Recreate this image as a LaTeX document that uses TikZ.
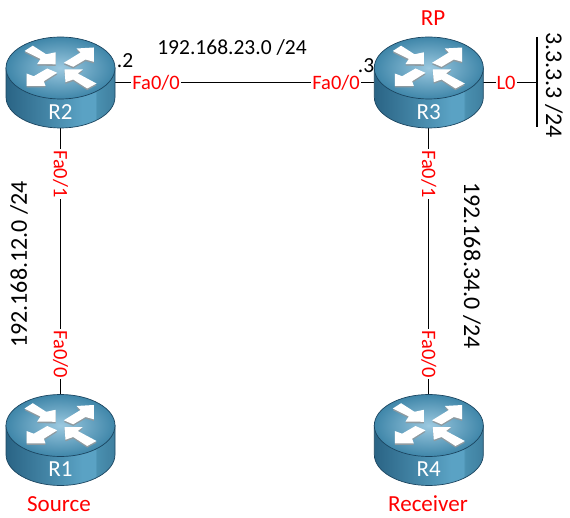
\documentclass[tikz,border=0pt]{standalone}
\usepackage{fontspec}
\setmainfont{Carlito}
\definecolor{red1}{HTML}{FF0000}
\definecolor{routeredge}{HTML}{1B4560}
\definecolor{routerlight}{HTML}{9CC9E0}
\definecolor{routertop}{HTML}{3F86A9}
\definecolor{arrowshade}{HTML}{8E9AA0}
\definecolor{routerS1}{HTML}{2A6485}
\definecolor{routerS2}{HTML}{4587A8}
\definecolor{routerS3}{HTML}{5AA2C4}
\definecolor{routerS4}{HTML}{4A90B0}
\definecolor{routerS5}{HTML}{3F7F9F}
\pgfdeclarehorizontalshading{routerside}{100bp}{
  color(0bp)=(routerS1);
  color(25bp)=(routerS1);
  color(45bp)=(routerS2);
  color(60bp)=(routerS3);
  color(66bp)=(routerS3);
  color(66.5bp)=(routerS4);
  color(75bp)=(routerS5);
  color(100bp)=(routerS5)}
\tikzset{
  routerbox/.style={minimum width=109pt,minimum height=91pt,inner sep=0pt,outer sep=0pt},
  portlabel/.style={fill=white,text=red1,font=\fontsize{20.5}{22}\selectfont,inner xsep=1pt,inner ysep=0pt},
  netlabel/.style={text=black,font=\fontsize{21.5}{24}\selectfont,inner sep=0pt},
  netlabelv/.style={text=black,font=\fontsize{24}{26}\selectfont,inner sep=0pt},
  redtext/.style={text=red1,font=\fontsize{23}{25}\selectfont,inner sep=0pt},
  conn/.style={draw=black,line width=1.3pt},
}
\newcommand{\routerarrows}[1]{%
  \fill[#1] (-36,-31.5) -- (-27.7,-36.8) -- (-14.3,-28.2) -- (-5,-30.2) -- (-5,-18.2) -- (-23.3,-18.5) -- (-20,-23.5) -- cycle;
  \fill[#1] (3.3,-19.7) -- (12.7,-15.7) -- (25,-23) -- (33.3,-20.7) -- (33.3,-35) -- (16,-34) -- (20,-30) -- cycle;
  \fill[#1] (-13.3,-14) -- (-3.3,-9.7) -- (-16.7,-1.3) -- (-15,3.3) -- (-34,3.3) -- (-34,-9) -- (-26.7,-6.3) -- cycle;
  \fill[#1] (4,-13) -- (22.3,-13) -- (17.3,-9) -- (36,1) -- (26.7,6) -- (12.7,-3) -- (5,-.3) -- cycle;}
\newcommand{\routershape}[3]{%
  \begin{scope}[shift={(#1,#2)}]
    \path[draw=routeredge,line width=.7pt,shading=routerside,shading angle=0]
      (-54.5,-14.5) -- (-54.5,14.5) .. controls (-54.5,31.6) and (-30.1,45.5) .. (0,45.5)
      .. controls (30.1,45.5) and (54.5,31.6) .. (54.5,14.5) -- (54.5,-14.5) -- cycle;
    \path[draw=routeredge,line width=.7pt,inner color=routerlight,outer color=routertop]
      (0,-14.5) ellipse[x radius=54.5,y radius=31];
    \begin{scope}[yshift=-1.6pt]\routerarrows{arrowshade}\end{scope}
    \routerarrows{white}
    \node[text=white,font=\fontsize{23}{25}\selectfont,inner sep=0pt] at (0,29.5) {#3};
  \end{scope}}
\begin{document}
\begin{tikzpicture}[x=1pt,y=-1pt]
\useasboundingbox (0,0) rectangle (570,518);
\node[routerbox] (r2) at (60.5,82.5) {};
\node[routerbox] (r3) at (428.8,82.5) {};
\node[routerbox] (r1) at (60.5,440) {};
\node[routerbox] (r4) at (428.8,440) {};
\coordinate (l0end) at (537,82.5);
\coordinate (bartop) at (537,37);
\coordinate (barbot) at (537,127);
% connectors
\draw[conn] (r2.east) -- (r3.west);
\draw[conn] (r2.south) -- (r1.north);
\draw[conn] (r3.south) -- (r4.north);
\draw[conn] (r3.east) -- (l0end);
\draw[conn] (bartop) -- (barbot);
% routers
\routershape{60.5}{82.5}{R2}
\routershape{428.8}{82.5}{R3}
\routershape{60.5}{440}{R1}
\routershape{428.8}{440}{R4}
% port labels
\node[portlabel] (p1) at (156,82.5) {Fa0/0};
\node[portlabel] (p2) at (336,82.5) {Fa0/0};
\node[portlabel] (p3) at (506,82.5) {L0};
\node[portlabel,rotate=-90] (p4) at (60.5,174) {Fa0/1};
\node[portlabel,rotate=-90] (p5) at (60.5,354) {Fa0/0};
\node[portlabel,rotate=-90] (p6) at (428.8,174) {Fa0/1};
\node[portlabel,rotate=-90] (p7) at (428.8,354) {Fa0/0};
% network labels
\node[netlabel] (n1) at (232,47) {192.168.23.0 /24};
\node[netlabelv,rotate=90] (n2) at (19,264.5) {192.168.12.0 /24};
\node[netlabelv,rotate=-90] (n3) at (472,265.5) {192.168.34.0 /24};
\node[netlabelv,rotate=-90] (n4) at (554,85) {3.3.3.3 /24};
\node[netlabel] (d2) at (125,61) {.2};
\node[netlabel] (d3) at (366,66) {.3};
\node[redtext] (rp) at (433,18) {RP};
\node[redtext] (src) at (59,504) {Source};
\node[redtext] (rcv) at (428,504) {Receiver};
\end{tikzpicture}
\end{document}
